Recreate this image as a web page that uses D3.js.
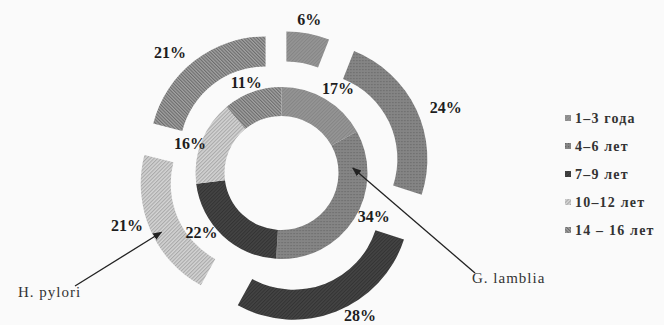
<!DOCTYPE html>
<html>
<head>
<meta charset="utf-8">
<script src="https://cdn.jsdelivr.net/npm/d3@7"></script>
<style>
  html, body { margin: 0; padding: 0; background: #fafafa; }
  svg { display: block; }
</style>
</head>
<body>
<svg id="chart" width="664" height="325"></svg>
<script>
// Age groups (legend order = slice order, clockwise from 12 o'clock)
const categories = ["1–3 года", "4–6 лет", "7–9 лет", "10–12 лет", "14 – 16 лет"];
// Share of each age group, %
const lambliaValues = [17, 34, 22, 16, 11]; // inner ring
const pyloriValues  = [6, 24, 28, 21, 21];  // outer ring, exploded
const seriesNames = ["G. lamblia", "H. pylori"];

const svg = d3.select("#chart");
const W = 664, H = 325;
svg.append("rect").attr("width", W).attr("height", H).attr("fill", "#fafafa");

// ---- fills: solid greys plus Excel-like pattern fills ----
const defs = svg.append("defs");
function hatch(id, bg, fg, size, width, angle) {
  const p = defs.append("pattern").attr("id", id)
    .attr("patternUnits", "userSpaceOnUse")
    .attr("width", size).attr("height", size)
    .attr("patternTransform", `rotate(${angle})`);
  p.append("rect").attr("width", size).attr("height", size).attr("fill", bg);
  p.append("rect").attr("width", width).attr("height", size).attr("fill", fg);
}
function dots(id, bg, fg) {
  const p = defs.append("pattern").attr("id", id)
    .attr("patternUnits", "userSpaceOnUse").attr("width", 3).attr("height", 3);
  p.append("rect").attr("width", 3).attr("height", 3).attr("fill", bg);
  p.append("rect").attr("width", 1.2).attr("height", 1.2).attr("fill", fg);
}
hatch("f0", "#959595", "#858585", 2.5, 1, 45);
dots("f1", "#858585", "#666666");
hatch("f2", "#444444", "#333333", 2.5, 1, 45);
hatch("f3", "#d4d4d4", "#a9a9a9", 2.6, 1.1, 45);
hatch("f4", "#a2a2a2", "#6c6c6c", 2.4, 1.1, -45);
const fill = d3.scaleOrdinal()
  .domain(categories)
  .range(["url(#f0)", "url(#f1)", "url(#f2)", "url(#f3)", "url(#f4)"]);

// ---- geometry ----
const cx = 281.5, cy = 173;
const innerR = [57, 86];   // G. lamblia ring
const outerR = [86, 116];  // H. pylori ring
const explode = [26, 33, 33, 27, 26]; // pull-out distance of each outer slice
const deg = Math.PI / 180;
const polar = (a, r) => [r * Math.sin(a), -r * Math.cos(a)];

const pie = d3.pie().sort(null).value(d => d.value);
const innerSlices = pie(categories.map((c, i) => ({ cat: c, value: lambliaValues[i] })));
const outerSlices = pie(categories.map((c, i) => ({ cat: c, value: pyloriValues[i] })));
const mid = d => (d.startAngle + d.endAngle) / 2;

const arcInner = d3.arc().innerRadius(innerR[0]).outerRadius(innerR[1]);
const arcOuter = d3.arc().innerRadius(outerR[0]).outerRadius(outerR[1]);

const g = svg.append("g").attr("transform", `translate(${cx},${cy})`);

g.selectAll("path.inner").data(innerSlices).join("path")
  .attr("class", "inner")
  .attr("d", arcInner)
  .attr("fill", d => fill(d.data.cat));

g.selectAll("path.outer").data(outerSlices).join("path")
  .attr("class", "outer")
  .attr("transform", (d, i) => { const [x, y] = polar(mid(d), explode[i]); return `translate(${x},${y})`; })
  .attr("d", arcOuter)
  .attr("fill", d => fill(d.data.cat));

// ---- percentage labels (placed along each slice's mid-angle, with small nudges) ----
const innerLabel = { r: [102, 102, 100, 96, 97], da: [3, -7, 10, -4, -1.5] };
const outerLabel = { r: [156, 177, 163, 163, 164], da: [-0.6, 3.4, -7.2, 4.7, -5] };
const fmt = v => v + "%";
function addLabels(slices, layout) {
  g.selectAll(null).data(slices).join("text")
    .attr("x", (d, i) => polar(mid(d) + layout.da[i] * deg, layout.r[i])[0])
    .attr("y", (d, i) => polar(mid(d) + layout.da[i] * deg, layout.r[i])[1])
    .attr("text-anchor", "middle")
    .attr("dominant-baseline", "central")
    .attr("font-family", "'Liberation Serif', 'Times New Roman', serif")
    .attr("font-weight", "bold")
    .attr("font-size", 16)
    .attr("fill", "#1e1e1e")
    .text(d => fmt(d.data.value));
}
addLabels(innerSlices, innerLabel);
addLabels(outerSlices, outerLabel);

// ---- series call-outs ----
defs.append("marker").attr("id", "arrow")
  .attr("viewBox", "0 0 10 10").attr("refX", 9).attr("refY", 5)
  .attr("markerWidth", 7).attr("markerHeight", 7).attr("orient", "auto")
  .append("path").attr("d", "M0,1 L10,5 L0,9 z").attr("fill", "#222");

// G. lamblia -> inner ring
const tipInner = polar(86 * deg, (innerR[0] + innerR[1]) / 2);
// H. pylori -> exploded 10–12 slice of the outer ring
const off4 = polar(mid(outerSlices[3]), explode[3]);
const p4 = polar(243 * deg, 107);
const tipOuter = [off4[0] + p4[0], off4[1] + p4[1]];
const callouts = [
  { name: seriesNames[0], tx: 472, ty: 283, from: [475, 273], to: [cx + tipInner[0], cy + tipInner[1]] },
  { name: seriesNames[1], tx: 18, ty: 297, from: [75, 286], to: [cx + tipOuter[0], cy + tipOuter[1]] }
];
callouts.forEach(c => {
  svg.append("line")
    .attr("x1", c.from[0]).attr("y1", c.from[1])
    .attr("x2", c.to[0]).attr("y2", c.to[1])
    .attr("stroke", "#222").attr("stroke-width", 1.3)
    .attr("marker-end", "url(#arrow)");
  svg.append("text")
    .attr("x", c.tx).attr("y", c.ty)
    .attr("font-family", "'Liberation Serif', 'Times New Roman', serif")
    .attr("font-size", 15)
    .attr("letter-spacing", 1)
    .attr("fill", "#333")
    .text(c.name);
});

// ---- legend ----
const legendY = d3.scalePoint().domain(categories).range([118, 230]);
const legend = svg.append("g");
const items = legend.selectAll("g").data(categories).join("g")
  .attr("transform", d => `translate(565,${legendY(d)})`);
items.append("rect")
  .attr("x", 0).attr("y", -3).attr("width", 6).attr("height", 6)
  .attr("fill", d => fill(d));
items.append("text")
  .attr("x", 10).attr("y", 0)
  .attr("dominant-baseline", "central")
  .attr("font-family", "'Liberation Serif', 'Times New Roman', serif")
  .attr("font-weight", "bold")
  .attr("font-size", 14)
  .attr("letter-spacing", 1.2)
  .attr("fill", "#333")
  .text(d => d);
</script>
</body>
</html>
